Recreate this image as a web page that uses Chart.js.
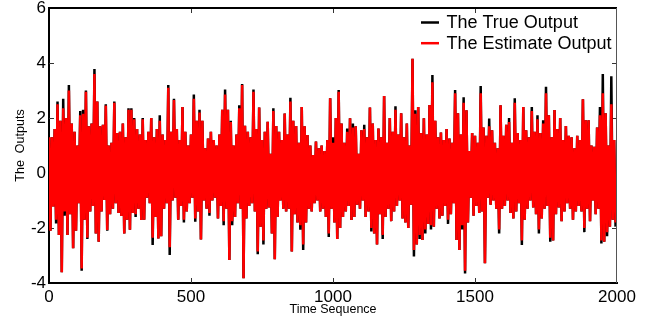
<!DOCTYPE html>
<html>
<head>
<meta charset="utf-8">
<script src="https://cdn.jsdelivr.net/npm/chart.js@4/dist/chart.umd.min.js"></script>
<style>
  html, body { margin: 0; padding: 0; background: #fff; }
  #wrap { width: 648px; height: 320px; }
</style>
</head>
<body>
<div id="wrap"><canvas id="chart" width="648" height="320"></canvas></div>
<script>
// each entry covers 10 samples: a peak (hi) then a trough (lo) 5 samples later
const STEP = 10;
const xTicks = [0, 500, 1000, 1500, 2000];
const yTicks = [-4, -2, 0, 2, 4, 6];

const trueHi = [
  1.3, 1.3, 1.6, 2.6, 1.9, 2.7, 2.0, 3.2, 1.8, 1.5,
  1.0, 2.25, 2.3, 3.0, 1.7, 1.8, 3.78, 2.6, 1.7, 1.75,
  2.5, 1.0, 1.1, 2.6, 1.45, 1.5, 1.8, 1.3, 2.35, 2.35,
  2.0, 1.6, 1.4, 2.0, 1.2, 1.5, 2.0, 1.3, 1.6, 2.1,
  1.4, 1.2, 3.2, 1.5, 2.7, 1.6, 1.2, 2.4, 1.5, 1.0,
  1.4, 2.85, 1.9, 2.3, 1.9, 0.9, 1.25, 1.5, 1.2, 1.0,
  1.4, 2.3, 3.04, 2.3, 1.9, 1.0, 1.4, 2.46, 3.24, 1.72,
  1.5, 1.3, 3.04, 1.6, 2.38, 1.2, 1.5, 1.86, 0.7, 2.35,
  1.71, 1.5, 1.2, 2.16, 1.4, 2.74, 1.9, 1.71, 1.1, 2.4,
  1.7, 1.38, 1.0, 0.65, 1.14, 0.9, 1.0, 0.8, 1.2, 2.72,
  1.3, 2.0, 3.02, 1.8, 1.1, 1.62, 1.99, 1.8, 1.7, 0.7,
  1.55, 1.75, 1.3, 2.38, 1.8, 1.2, 1.62, 1.3, 2.8, 1.1,
  2.0, 1.5, 2.43, 1.4, 2.17, 1.3, 1.8, 1.0, 4.15, 2.28,
  2.4, 1.45, 1.99, 1.4, 2.47, 3.56, 1.9, 1.3, 1.47, 1.2,
  1.6, 1.25, 1.1, 3.02, 2.17, 1.4, 2.75, 2.28, 0.8, 1.45,
  1.35, 1.1, 3.16, 1.65, 1.35, 1.98, 1.55, 1.1, 0.9, 2.46,
  1.35, 1.75, 2.0, 1.1, 2.72, 1.45, 1.2, 2.4, 1.55, 1.3,
  2.4, 1.5, 2.1, 1.45, 1.92, 3.14, 2.1, 1.3, 2.29, 1.6,
  2.0, 1.2, 1.71, 1.35, 1.3, 0.9, 1.35, 1.2, 2.68, 1.92,
  1.92, 1.0, 0.95, 1.65, 2.4, 3.6, 2.17, 1.0, 3.52, 1.2
];
const trueLo = [
  -2.1, -1.22, -1.84, -2.25, -3.61, -1.55, -2.25, -1.5, -2.74, -2.1,
  -1.1, -3.55, -1.7, -2.4, -1.4, -1.2, -2.2, -2.5, -1.4, -0.98,
  -2.1, -1.5, -1.3, -1.1, -1.45, -1.56, -2.2, -1.7, -2.06, -1.45,
  -1.6, -1.3, -1.71, -1.7, -0.9, -1.1, -2.62, -1.6, -2.38, -2.3,
  -1.3, -1.1, -2.98, -1.0, -0.9, -1.7, -1.2, -1.8, -1.4, -1.1,
  -0.9, -1.77, -1.4, -2.42, -1.0, -1.3, -1.55, -1.0, -0.9, -1.65,
  -1.2, -1.9, -1.3, -3.16, -1.9, -1.6, -1.1, -1.3, -3.83, -1.65,
  -1.2, -1.1, -1.4, -2.95, -1.95, -2.6, -1.3, -1.25, -2.2, -3.14,
  -1.6, -1.0, -1.3, -1.4, -1.3, -2.85, -1.5, -1.8, -2.06, -2.8,
  -1.8, -1.3, -1.4, -1.1, -1.0, -1.4, -1.3, -1.6, -2.33, -1.3,
  -1.8, -2.4, -2.0, -1.6, -1.4, -1.2, -1.71, -1.6, -1.15, -1.3,
  -1.0, -1.6, -1.4, -2.13, -2.2, -2.6, -1.5, -2.4, -1.6, -1.3,
  -1.75, -1.4, -1.2, -1.0, -1.65, -1.8, -2.0, -1.15, -3.04, -2.6,
  -2.4, -2.44, -2.2, -1.85, -2.05, -1.95, -1.3, -1.65, -1.55, -1.2,
  -1.85, -1.5, -1.1, -2.44, -2.8, -2.05, -3.65, -1.8, -0.9, -1.55,
  -1.2, -1.45, -1.4, -3.28, -0.9, -1.15, -1.0, -1.3, -2.2, -1.3,
  -1.2, -1.0, -1.45, -1.65, -1.4, -1.1, -2.62, -1.7, -1.3, -1.0,
  -1.25, -1.5, -2.2, -1.65, -1.3, -1.2, -2.5, -2.45, -1.5, -1.25,
  -1.75, -1.4, -1.1, -1.3, -1.7, -1.4, -1.2, -1.4, -2.15, -1.3,
  -1.75, -1.0, -1.5, -1.3, -2.56, -2.5, -2.3, -1.95, -1.7, -1.95
];
const estHi = [
  1.3, 1.3, 1.6, 2.5, 1.9, 2.35, 2.0, 3.0, 1.8, 1.5,
  1.0, 2.1, 2.15, 2.95, 1.7, 1.8, 3.6, 2.6, 1.7, 1.75,
  2.45, 1.0, 1.1, 2.55, 1.45, 1.5, 1.8, 1.3, 2.3, 2.3,
  1.95, 1.6, 1.4, 1.95, 1.2, 1.5, 2.0, 1.3, 1.6, 1.9,
  1.4, 1.2, 3.1, 1.5, 2.65, 1.6, 1.2, 2.4, 1.5, 1.0,
  1.4, 2.7, 1.9, 2.2, 1.9, 0.9, 1.25, 1.5, 1.2, 1.0,
  1.4, 2.3, 2.85, 2.3, 1.85, 1.0, 1.4, 2.35, 3.2, 1.72,
  1.5, 1.3, 2.95, 1.6, 2.38, 1.2, 1.5, 1.86, 0.7, 2.25,
  1.71, 1.5, 1.2, 2.16, 1.4, 2.6, 1.9, 1.71, 1.1, 2.4,
  1.7, 1.38, 1.0, 0.65, 1.14, 0.9, 1.0, 0.8, 1.2, 2.72,
  1.1, 2.0, 2.95, 1.8, 1.1, 1.5, 1.99, 1.65, 1.7, 0.7,
  1.55, 1.6, 1.3, 2.38, 1.8, 1.2, 1.62, 1.3, 2.8, 1.1,
  2.0, 1.5, 2.3, 1.4, 2.17, 1.3, 1.8, 1.0, 4.15, 2.15,
  2.4, 1.45, 1.99, 1.4, 2.47, 3.3, 1.9, 1.3, 1.47, 1.2,
  1.6, 1.25, 1.1, 2.9, 2.17, 1.4, 2.55, 2.28, 0.8, 1.45,
  1.35, 1.1, 2.9, 1.65, 1.35, 1.7, 1.55, 1.1, 0.9, 2.46,
  1.35, 1.75, 1.85, 1.1, 2.55, 1.45, 1.2, 2.4, 1.55, 1.3,
  2.25, 1.5, 1.95, 1.45, 1.8, 2.9, 2.1, 1.3, 2.29, 1.6,
  2.0, 1.2, 1.71, 1.35, 1.3, 0.9, 1.35, 1.2, 2.68, 1.92,
  1.92, 1.0, 0.95, 1.65, 2.1, 2.9, 2.17, 1.0, 2.5, 1.2
];
const estLo = [
  -2.1, -1.22, -1.7, -2.25, -3.61, -1.4, -2.25, -1.5, -2.74, -2.1,
  -1.1, -3.47, -1.7, -2.35, -1.4, -1.2, -2.2, -2.5, -1.4, -0.98,
  -2.07, -1.5, -1.3, -1.1, -1.45, -1.56, -2.2, -1.7, -2.06, -1.45,
  -1.5, -1.3, -1.71, -1.7, -0.9, -1.1, -2.35, -1.6, -2.38, -2.3,
  -1.3, -1.1, -2.7, -1.0, -0.9, -1.7, -1.2, -1.7, -1.4, -1.1,
  -0.9, -1.65, -1.4, -2.42, -1.0, -1.3, -1.45, -1.0, -0.9, -1.65,
  -1.2, -1.75, -1.3, -3.16, -1.75, -1.6, -1.1, -1.3, -3.83, -1.65,
  -1.2, -1.1, -1.4, -2.85, -1.95, -2.45, -1.3, -1.25, -2.2, -3.14,
  -1.6, -1.0, -1.3, -1.4, -1.3, -2.85, -1.5, -1.8, -1.9, -2.6,
  -1.8, -1.3, -1.4, -1.1, -1.0, -1.4, -1.3, -1.6, -2.2, -1.3,
  -1.8, -2.4, -2.0, -1.6, -1.4, -1.2, -1.71, -1.6, -1.15, -1.3,
  -1.0, -1.6, -1.4, -2.0, -2.2, -2.6, -1.5, -2.25, -1.6, -1.3,
  -1.75, -1.4, -1.2, -1.0, -1.65, -1.8, -2.0, -1.15, -2.8, -2.6,
  -2.25, -2.44, -2.05, -1.85, -1.9, -1.95, -1.3, -1.65, -1.55, -1.2,
  -1.7, -1.5, -1.1, -2.44, -2.8, -1.9, -3.55, -1.8, -0.9, -1.55,
  -1.2, -1.45, -1.4, -3.28, -0.9, -1.15, -1.0, -1.3, -2.05, -1.3,
  -1.2, -1.0, -1.45, -1.65, -1.4, -1.1, -2.45, -1.7, -1.3, -1.0,
  -1.25, -1.5, -2.05, -1.65, -1.3, -1.2, -2.35, -2.45, -1.5, -1.25,
  -1.75, -1.4, -1.1, -1.3, -1.7, -1.4, -1.2, -1.4, -2.0, -1.3,
  -1.75, -1.0, -1.5, -1.3, -2.45, -2.5, -2.15, -1.95, -1.7, -1.8
];

const FONT = "'Liberation Sans', Arial, sans-serif";

// hi/lo pairs -> {x, y} points along the time axis
function toPoints(hi, lo) {
  const pts = [];
  hi.forEach((h, i) => {
    pts.push({ x: i * STEP, y: h });
    pts.push({ x: i * STEP + STEP / 2, y: lo[i] });
  });
  return pts;
}

// box on top/right + matlab style inward ticks
const framePlugin = {
  id: 'frame',
  beforeDatasetsDraw(chart) {
    const { ctx, chartArea: a, scales: { x, y } } = chart;
    ctx.save();
    ctx.strokeStyle = '#333';
    ctx.lineWidth = 1;
    ctx.beginPath();
    xTicks.slice(1, -1).forEach(v => {
      const px = Math.round(x.getPixelForValue(v)) + 0.5;
      ctx.moveTo(px, a.bottom); ctx.lineTo(px, a.bottom - 5);
      ctx.moveTo(px, a.top); ctx.lineTo(px, a.top + 5);
    });
    yTicks.slice(1, -1).forEach(v => {
      const py = Math.round(y.getPixelForValue(v)) + 0.5;
      ctx.moveTo(a.left, py); ctx.lineTo(a.left + 5, py);
      ctx.moveTo(a.right, py); ctx.lineTo(a.right - 5, py);
    });
    ctx.stroke();
    ctx.restore();
  },
  afterDraw(chart) {
    const { ctx, chartArea: a } = chart;
    ctx.save();
    ctx.strokeStyle = '#000';
    ctx.lineWidth = 2;
    ctx.beginPath(); ctx.moveTo(a.left, a.top); ctx.lineTo(a.right, a.top); ctx.stroke();
    ctx.strokeStyle = '#555';
    ctx.lineWidth = 1;
    ctx.beginPath(); ctx.moveTo(a.right - 0.5, a.top); ctx.lineTo(a.right - 0.5, a.bottom); ctx.stroke();

    // legend, top right inside the axes
    const rows = chart.data.datasets;
    ctx.font = '18px ' + FONT;
    ctx.textBaseline = 'middle';
    ctx.fillStyle = '#000';
    rows.forEach((ds, i) => {
      const ly = a.top + 14.5 + i * 20.7;
      ctx.strokeStyle = ds.borderColor;
      ctx.lineWidth = 2.5;
      ctx.beginPath(); ctx.moveTo(a.right - 196, ly); ctx.lineTo(a.right - 178, ly); ctx.stroke();
      ctx.fillText(ds.label, a.right - 170.5, ly + 0.5);
    });
    ctx.restore();
  }
};

new Chart(document.getElementById('chart'), {
  type: 'line',
  data: {
    datasets: [
      { label: 'The True Output', data: toPoints(trueHi, trueLo), borderColor: '#000000', order: 2 },
      { label: 'The Estimate Output', data: toPoints(estHi, estLo), borderColor: '#ff0000', order: 1 }
    ]
  },
  options: {
    responsive: false,
    animation: false,
    layout: { padding: { top: 8, right: 31, left: 0, bottom: 0 } },
    elements: {
      line: { borderWidth: 2.5, tension: 0, fill: false },
      point: { radius: 0, hoverRadius: 0 }
    },
    plugins: { legend: { display: false }, tooltip: { enabled: false } },
    scales: {
      x: {
        type: 'linear', min: 0, max: 2000,
        afterBuildTicks: s => { s.ticks = xTicks.map(v => ({ value: v })); },
        afterFit: s => { s.height = 37; s.paddingLeft = 0; s.paddingRight = 0; },
        grid: { display: true, drawOnChartArea: false, drawTicks: false },
        border: { color: '#000', width: 2 },
        ticks: { padding: 4, color: '#000', font: { family: FONT, size: 17 }, callback: v => String(v) },
        title: { display: true, text: 'Time Sequence', color: '#000', font: { family: FONT, size: 12.5 }, padding: { top: 0, bottom: 3 } }
      },
      y: {
        min: -4, max: 6,
        afterBuildTicks: s => { s.ticks = yTicks.map(v => ({ value: v })); },
        afterFit: s => { s.width = 49; s.paddingTop = 0; s.paddingBottom = 0; },
        grid: { display: true, drawOnChartArea: false, drawTicks: false },
        border: { color: '#000', width: 2 },
        ticks: { padding: 3, color: '#000', font: { family: FONT, size: 17 }, callback: v => String(v) },
        title: { display: true, text: 'The  Outputs', color: '#000', font: { family: FONT, size: 12.5 }, padding: { top: 13.5, bottom: 0 } }
      }
    }
  },
  plugins: [framePlugin]
});
</script>
</body>
</html>
